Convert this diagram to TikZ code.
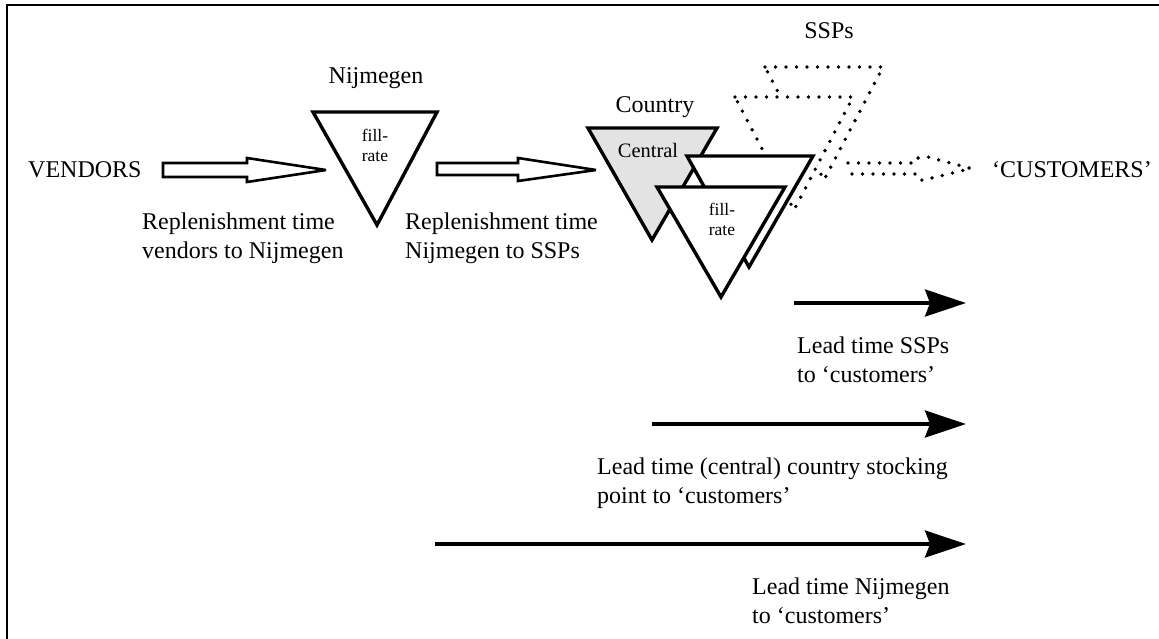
\documentclass[tikz,border=0pt]{standalone}
\usepackage{fontspec}
\setmainfont{Liberation Serif}
\usetikzlibrary{arrows.meta,calc}
\begin{document}
\begin{tikzpicture}[x=1pt,y=-1pt,
  lbl/.style={inner sep=0pt, font=\fontsize{24}{28.5}\selectfont, align=left, anchor=base west},
  ttl/.style={inner sep=0pt, font=\fontsize{24}{28.5}\selectfont, anchor=base},
  small/.style={inner sep=0pt, font=\fontsize{17.5}{20}\selectfont, align=center, anchor=base},
  stock/.style={draw=black, line width=3.4pt, line join=miter, fill=white},
  ssp/.style={draw=black, line width=3.8pt, line cap=round, dash pattern=on 0pt off 10.5pt, fill=white},
  hollow/.style={draw=black, line width=2.6pt, fill=white, line join=miter, miter limit=4},
  lead/.style={line width=3.2pt, -{Stealth[length=41pt,width=27pt,inset=5pt]}}
]
\useasboundingbox (0,0) rectangle (1159,638);
\clip (0,0) rectangle (1159,638);
\fill[white] (0,0) rectangle (1159,638);

% frame (right and bottom sides run off the page)
\draw[line width=2.8pt] (7,700) -- (7,5) -- (1200,5);

% ---- corner points of the stocking points
\coordinate (nA) at (313,112); \coordinate (nB) at (437,112); \coordinate (nC) at (377,225);
\coordinate (cA) at (588,128); \coordinate (cB) at (717,128); \coordinate (cC) at (652,240);
\coordinate (mA) at (687,156); \coordinate (mB) at (813,156); \coordinate (mC) at (749,267);
\coordinate (fA) at (657,187); \coordinate (fB) at (785,187); \coordinate (fC) at (721,297);
\coordinate (s3A) at (765,67); \coordinate (s3B) at (883,67); \coordinate (s3C) at (824,180);
\coordinate (s2A) at (735,97); \coordinate (s2B) at (853,97); \coordinate (s2C) at (794,210);

% ---- labels (multi-line labels are anchored at the baseline of their last line)
\node[lbl] (vendors) at (28,177) {VENDORS};
\node[ttl] (nijlbl) at (376,83) {Nijmegen};
\node[ttl] (countrylbl) at (655,112) {Country};
\node[ttl] (ssplbl) at (829,38) {SSPs};
\node[lbl] (customers) at (992,177) {`CUSTOMERS'};

% ---- SSPs (dotted, back to front)
\draw[ssp] (s3A) -- (s3B) -- (s3C) -- cycle;
\draw[ssp] (s2A) -- (s2B) -- (s2C) -- cycle;

% ---- Nijmegen
\draw[stock] (nA) -- (nB) -- (nC) -- cycle;
\node[small] (nijfill) at (375,161) {fill-\\rate};

% ---- country stocking points
\draw[stock, fill=black!11] (cA) -- (cB) -- (cC) -- cycle;
\node[inner sep=0pt, font=\fontsize{20.5}{24}\selectfont, anchor=base] (central) at (648,157) {Central};
\draw[stock] (mA) -- (mB) -- (mC) -- cycle;
\draw[stock] (fA) -- (fB) -- (fC) -- cycle;
\node[small] (ctyfill) at (722,235) {fill-\\rate};

% ---- hollow flow arrows
\coordinate (h1) at (163,170);
\draw[hollow] ($(h1)+(0,-7)$) -- ++(84,0) -- ++(0,-5) -- (326,170) -- (247,182) -- ++(0,-5) -- ($(h1)+(0,7)$) -- cycle;
\coordinate (h2) at (437,169);
\draw[hollow] ($(h2)+(0,-6)$) -- ++(81,0) -- ++(0,-5) -- (596,170) -- (518,181) -- ++(0,-6) -- ($(h2)+(0,6)$) -- cycle;
\coordinate (h3) at (848,168.5);
\draw[ssp, fill=none] ($(h3)+(0,-5.5)$) -- ++(68,0) -- ++(2,-5) -- ++(10,-1) -- (971,168.5) -- (930,178.5) -- ++(-10,2) -- ++(-4,-6.5) -- ($(h3)+(0,5.5)$);

\node[lbl] (rep1) at (142,258) {Replenishment time\\vendors to Nijmegen};
\node[lbl] (rep2) at (405,258) {Replenishment time\\Nijmegen to SSPs};

% ---- lead times
\coordinate (l1s) at (794,303); \coordinate (l1e) at (966,303);
\coordinate (l2s) at (652,424); \coordinate (l2e) at (966,424);
\coordinate (l3s) at (435,544); \coordinate (l3e) at (966,544);
\draw[lead] (l1s) -- (l1e);
\draw[lead] (l2s) -- (l2e);
\draw[lead] (l3s) -- (l3e);
\node[lbl] (lt1) at (797,382) {Lead time SSPs\\to `customers'};
\node[lbl] (lt2) at (597,503) {Lead time (central) country stocking\\point to `customers'};
\node[lbl] (lt3) at (752,623) {Lead time Nijmegen\\to `customers'};
\end{tikzpicture}
\end{document}
